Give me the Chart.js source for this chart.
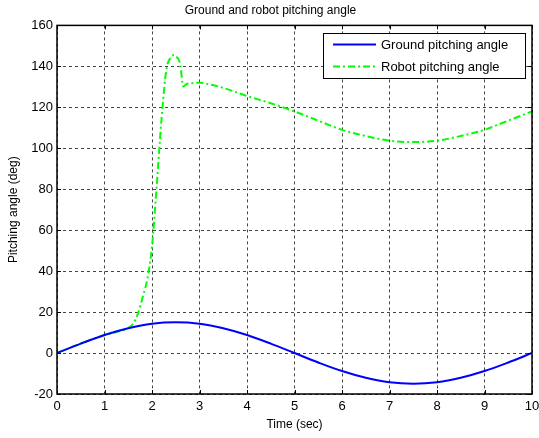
<!DOCTYPE html>
<html>
<head>
<meta charset="utf-8">
<script src="https://cdn.jsdelivr.net/npm/chart.js@4/dist/chart.umd.min.js"></script>
<style>
  html, body { margin: 0; padding: 0; background: #fff; }
  #wrap { width: 539px; height: 438px; }
</style>
</head>
<body>
<div id="wrap"><canvas id="pitchChart" width="539" height="438"></canvas></div>
<script>
// values
const groundTime  = [0, 0.5, 1, 1.5, 2, 2.5, 3, 3.5, 4, 4.5, 5, 5.5, 6, 6.5, 7, 7.5, 8, 8.5, 9, 9.5, 10];
const groundAngle = [0, 4.6, 8.8, 12.1, 14.3, 15, 14.3, 12.1, 8.8, 4.6, 0, -4.6, -8.8, -12.1, -14.3, -15, -14.3, -12.1, -8.8, -4.6, 0];

const robotTime  = [0, 0.5, 1, 1.5, 1.6, 1.7, 1.8, 1.9, 2.0, 2.1, 2.2, 2.3, 2.4, 2.46, 2.52, 2.59, 2.66, 2.73, 2.85, 3.0, 3.25, 3.5, 4, 4.5, 5, 5.5, 6, 6.5, 7, 7.5, 8, 8.5, 9, 9.5, 10];
const robotAngle = [0, 4.6, 8.8, 12.3, 14.2, 19, 27, 36, 52, 82, 114, 138, 144.5, 145.6, 144.5, 141.6, 130.2, 131.4, 131.8, 132, 131, 129.5, 125.5, 122, 118, 113.5, 109, 106, 103.7, 103, 103.7, 106, 109, 113.5, 118];

const xTicks = [0, 1, 2, 3, 4, 5, 6, 7, 8, 9, 10];
const yTicks = [-20, 0, 20, 40, 60, 80, 100, 120, 140, 160];

const FONT = 'Liberation Sans, Arial, sans-serif';

function toPoints(xs, ys) {
    return xs.map((x, i) => ({ x: x, y: ys[i] }));
}

// box, inner ticks and the boxed legend, matlab style
const framePlugin = {
    id: 'frame',
    afterDatasetsDraw(chart) {
        const ctx = chart.ctx;
        const a = chart.chartArea;
        const xs = chart.scales.x, ys = chart.scales.y;
        ctx.save();
        ctx.strokeStyle = '#000';
        ctx.lineWidth = 1;
        ctx.setLineDash([]);
        ctx.beginPath();
        for (const t of xTicks) {
            const px = Math.round(xs.getPixelForValue(t)) + 0.5;
            ctx.moveTo(px, a.bottom); ctx.lineTo(px, a.bottom - 4);
            ctx.moveTo(px, a.top); ctx.lineTo(px, a.top + 4);
        }
        for (const t of yTicks) {
            const py = Math.round(ys.getPixelForValue(t)) + 0.5;
            ctx.moveTo(a.left, py); ctx.lineTo(a.left + 4, py);
            ctx.moveTo(a.right, py); ctx.lineTo(a.right - 4, py);
        }
        ctx.stroke();
        ctx.lineWidth = 1.5;
        ctx.strokeRect(a.left, a.top, a.right - a.left, a.bottom - a.top);

        // legend
        const bx = 323, by = 33, bw = 202, bh = 45;
        ctx.fillStyle = '#fff';
        ctx.fillRect(bx, by, bw, bh);
        ctx.lineWidth = 1;
        ctx.strokeRect(bx + 0.5, by + 0.5, bw, bh);
        chart.data.datasets.forEach((ds, i) => {
            const y = by + 11.5 + i * 22;
            ctx.strokeStyle = ds.borderColor;
            ctx.lineWidth = 2;
            ctx.setLineDash(ds.borderDash || []);
            ctx.beginPath();
            ctx.moveTo(333, y); ctx.lineTo(376, y);
            ctx.stroke();
            ctx.setLineDash([]);
            ctx.fillStyle = '#000';
            ctx.font = '13px ' + FONT;
            ctx.textBaseline = 'middle';
            ctx.fillText(ds.label, 381, y + 0.5);
        });
        ctx.restore();
    }
};

const ctx = document.getElementById('pitchChart').getContext('2d');
window.pitchChart = new Chart(ctx, {
    type: 'line',
    data: {
        datasets: [{
            label: 'Ground pitching angle',
            data: toPoints(groundTime, groundAngle),
            borderColor: '#0000ff',
            borderWidth: 2,
            pointRadius: 0,
            cubicInterpolationMode: 'monotone',
            fill: false
        }, {
            label: 'Robot pitching angle',
            data: toPoints(robotTime, robotAngle),
            borderColor: '#00ff00',
            borderWidth: 2,
            borderDash: [7, 3, 2, 3],
            pointRadius: 0,
            cubicInterpolationMode: 'monotone',
            fill: false
        }]
    },
    options: {
        responsive: false,
        animation: false,
        layout: { padding: { left: 2, right: 0, top: 0, bottom: 0 } },
        plugins: {
            legend: { display: false },
            tooltip: { enabled: false },
            title: {
                display: true,
                text: 'Ground and robot pitching angle',
                color: '#000',
                font: { family: FONT, size: 12, weight: 'normal' },
                padding: { top: 3, bottom: 8 }
            }
        },
        scales: {
            x: {
                type: 'linear',
                min: 0, max: 10,
                afterBuildTicks: s => { s.ticks = xTicks.map(v => ({ value: v })); },
                afterFit: s => { s.height = 44; s.paddingRight = 7; s.paddingLeft = 0; },
                border: { display: false, dash: [3, 3] },
                grid: { color: '#444', lineWidth: 1, tickLength: 0, drawTicks: false },
                ticks: { color: '#000', font: { family: FONT, size: 13 }, padding: 5, maxRotation: 0 },
                title: { display: true, text: 'Time (sec)', color: '#000', font: { family: FONT, size: 12 }, padding: { top: 0, bottom: 6 } }
            },
            y: {
                min: -20, max: 160,
                afterBuildTicks: s => { s.ticks = yTicks.map(v => ({ value: v })); },
                afterFit: s => { s.width = 55; },
                border: { display: false, dash: [3, 3] },
                grid: { color: '#444', lineWidth: 1, tickLength: 0, drawTicks: false },
                ticks: { color: '#000', font: { family: FONT, size: 13 }, padding: 4 },
                title: { display: true, text: 'Pitching angle (deg)', color: '#000', font: { family: FONT, size: 12 }, padding: { top: 4, bottom: 0 } }
            }
        }
    },
    plugins: [framePlugin]
});
</script>
</body>
</html>
